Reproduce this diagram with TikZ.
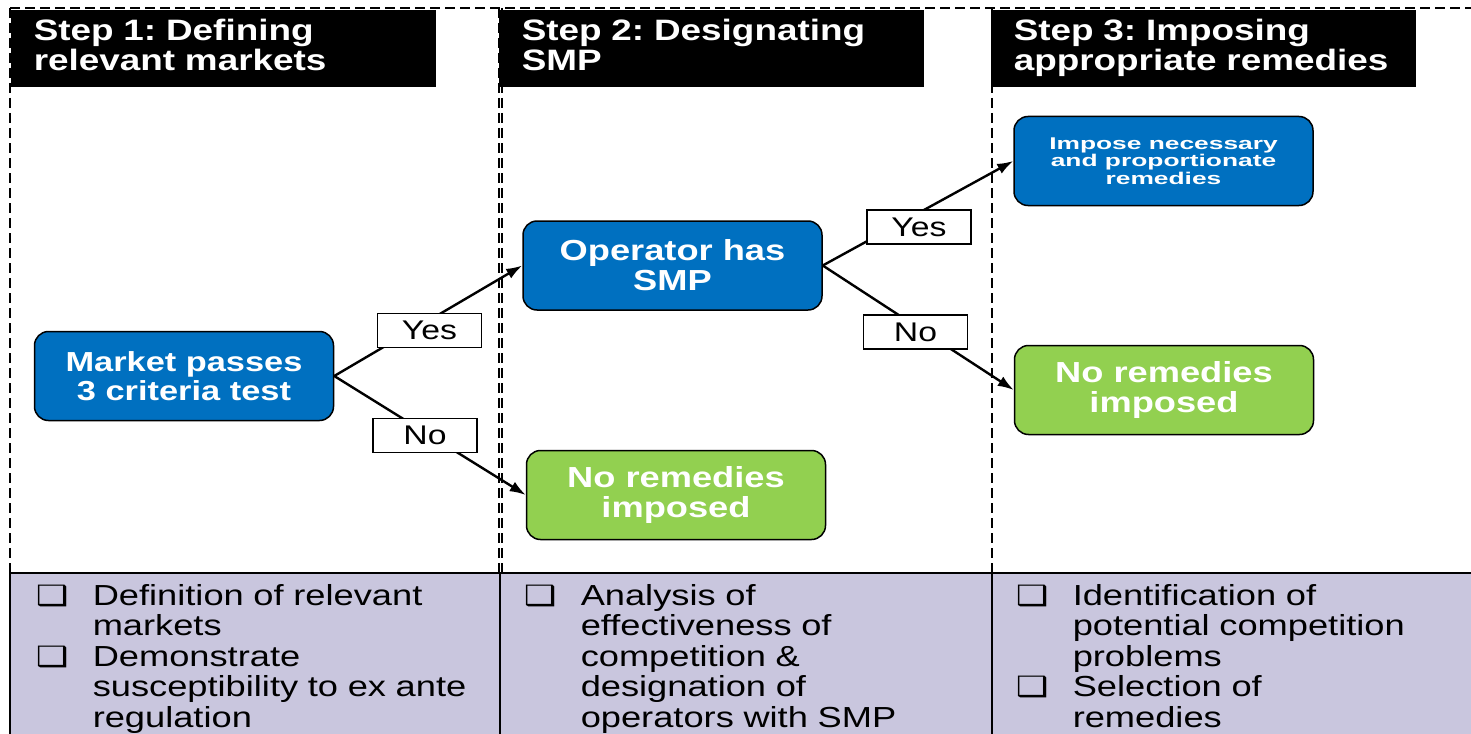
\documentclass[tikz,border=0pt]{standalone}
\usepackage{fontspec}
\setmainfont{Liberation Sans}[FakeStretch=1.25]
\newfontfamily\squeezefont{Liberation Sans}[FakeStretch=1.55]
\newfontfamily\checkfont{DejaVu Sans}[FakeStretch=1.3]
\usetikzlibrary{arrows.meta, positioning, shapes}
\frenchspacing

\definecolor{stepblue}{RGB}{0,112,192}
\definecolor{stepgreen}{RGB}{146,208,80}
\definecolor{panelgrey}{RGB}{201,198,222}

\newcommand{\chkitem}[1]{\par\noindent\hangindent=57pt\hangafter=1%
  \makebox[57pt][l]{\checkfont\fontsize{28}{30.5}\selectfont ❑}#1\par}

\begin{document}
\begin{tikzpicture}[x=1pt, y=-1pt,
                    every path/.style={line width=1.5pt},
                    frame/.style={dash pattern=on 10pt off 5pt, line width=2.2pt},
                    title/.style={anchor=north west, fill=black, text=white, align=left,
                                  text width=379pt, minimum height=77pt, inner xsep=23pt,
                                  inner ysep=0pt, font=\bfseries\fontsize{29.5}{30}\selectfont},
                    panel/.style={fill=panelgrey, draw=black},
                    bullets/.style={anchor=north west, align=left, text width=460pt,
                                    inner sep=0pt, font=\fontsize{29}{30.5}\selectfont},
                    decision/.style={draw=black, rounded corners=14pt, minimum width=299pt,
                                     minimum height=89pt, text=white, align=center,
                                     inner sep=0pt, font=\bfseries\fontsize{29}{30}\selectfont},
                    answer/.style={draw=black, fill=white, minimum width=104pt,
                                   minimum height=34pt, inner sep=0pt, line width=1.2pt,
                                   font=\fontsize{27}{27}\selectfont},
                    arrow/.style={-{Latex[length=16pt, width=11pt]}, line width=2.4pt}]

\useasboundingbox (0,0) rectangle (1471,733);

% Column frames
\draw[frame] (10,8) -- (1471,8);
\draw[frame] (10,8) -- (10,573);
\draw[frame] (499,8) -- (499,573);
\draw[frame] (502,8) -- (502,573);
\draw[frame] (992,8) -- (992,573);

% Bottom panels
\draw[panel] (10,573) rectangle (500,745);
\draw[panel] (500,573) rectangle (992,745);
\draw[panel] (992,573) rectangle (1490,745);

% Titles
\node[title] (t1) at (10,9)  {Step 1: Defining\\relevant markets\vphantom{p}};
\node[title] (t2) at (498,9) {Step 2: Designating\\SMP\vphantom{p}};
\node[title] (t3) at (990,9) {Step 3: Imposing\\appropriate remedies};

% Nodes
\node[decision, fill=stepblue, font=\bfseries\fontsize{27.5}{29}\selectfont]
     (market) at (184,376) {Market passes\\3 criteria test};
\node[decision, fill=stepblue]  (operator) at (672.5,265.5) {Operator has\\SMP};
\node[decision, fill=stepgreen] (none1)    at (676,495)     {No remedies\\imposed};
\node[decision, fill=stepblue, font=\squeezefont\bfseries\fontsize{17}{17.5}\selectfont]
     (impose) at (1163.5,161) {Impose necessary\\and proportionate\\remedies};
\node[decision, fill=stepgreen] (none2)    at (1164,390)    {No remedies\\imposed};

% Edges
\draw[arrow] (market.east) -- (operator.west);
\draw[arrow] (market.east) -- (none1.west);
\draw[arrow] (operator.east) -- (impose.west);
\draw[arrow] (operator.east) -- (none2.west);

% Answers
\node[answer] (yes1) at (429.5,330.5) {Yes};
\node[answer] (no1)  at (425,435.5)   {No};
\node[answer] (yes2) at (919,227)     {Yes};
\node[answer] (no2)  at (915.5,332)   {No};

% Panel texts
\node[bullets] (b1) at (35,574)
  {\chkitem{Definition of relevant\newline markets}
   \chkitem{Demonstrate\newline susceptibility to ex ante\newline regulation}};
\node[bullets] (b2) at (523,574)
  {\chkitem{Analysis of\newline effectiveness of\newline competition \&\newline
   designation of\newline operators with SMP}};
\node[bullets] (b3) at (1015,574)
  {\chkitem{Identification of\newline potential competition\newline problems}
   \chkitem{Selection of\newline remedies}};

\end{tikzpicture}
\end{document}
